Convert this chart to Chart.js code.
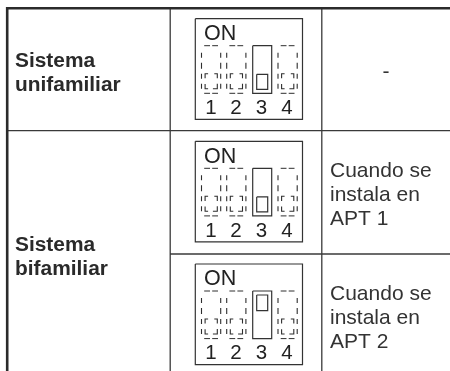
<!DOCTYPE html>
<html>
<head>
<meta charset="utf-8">
<style>html,body{margin:0;padding:0;background:#fff}canvas{display:block}</style>
<script src="https://cdn.jsdelivr.net/npm/chart.js@4"></script>
</head>
<body>
<canvas id="c" width="450" height="371"></canvas>
<script>
const systemLabels = [["Sistema","unifamiliar"],["Sistema","bifamiliar"]];
const noteLabels = [["-"],["Cuando se","instala en","APT 1"],["Cuando se","instala en","APT 2"]];
const switchNumbers = ["1","2","3","4"];
const onLabel = "ON";
const activeSwitch = [3,3,3];
const knobPosition = ["down","down","up"];

const W=450,H=371;
const boxTops=[18.7,141.3,264];
const switchX=[[201.5,220.7],[226.7,245.9],[252.7,271.7],[278,297.2]];
const digitX=[211,236,261.5,287];
const ds=[];
function line(pts,width,color){
  ds.push({type:'scatter',showLine:true,data:pts.map(p=>({x:p[0],y:p[1]})),borderColor:color,borderWidth:width,pointRadius:0,fill:false,tension:0,borderCapStyle:'butt',borderJoinStyle:'miter',clip:false});
}
function rect(x0,y0,x1,y1,width,color){line([[x0,y0],[x1,y0],[x1,y1],[x0,y1],[x0,y0]],width,color);}
const ruleC='#3a3a3a';
line([[6,8.2],[450,8.2]],2.4,'#2b2b2b');
line([[7.2,7],[7.2,371]],2.6,'#2b2b2b');
line([[170.2,8],[170.2,371]],1.3,ruleC);
line([[321.8,8],[321.8,371]],1.3,ruleC);
line([[7,130.7],[450,130.7]],1.3,ruleC);
line([[170,254],[450,254]],1.3,ruleC);
const dc='#2e2e2e';
function dashedSwitch(a,b,top,bot){
  [top,bot].forEach(y=>{
    line([[a+2.7,y],[a+8.5,y]],1,dc);
    line([[a+10.7,y],[a+16.5,y]],1,dc);
  });
  [a,b].forEach(x=>{
    [[7,12],[17,23],[28,33],[38,43]].forEach(s=>line([[x,top+s[0]],[x,top+s[1]]],1.1,dc));
  });
  const l=a+3.6,r=b-3.4,u=top+28,d=top+43;
  line([[l,u+4.6],[l,u],[l+3,u]],1.1,dc);
  line([[r-3,u],[r,u],[r,u+4.6]],1.1,dc);
  line([[l,d-4.8],[l,d],[l+3,d]],1.1,dc);
  line([[r-4.4,d],[r,d],[r,d-5]],1.1,dc);
}
boxTops.forEach((t,r)=>{
  rect(195.3,t,302.5,t+100.6,1.2,'#333');
  switchX.forEach((sx,i)=>{
    const [a,b]=sx, top=t+27, bot=t+74.6;
    if(i+1===activeSwitch[r]){
      rect(a,top,b,bot,1.2,'#333');
      const k=knobPosition[r]==='down'?[t+55.6,t+70.6]:[t+31,t+46.7];
      rect(a+4,k[0],b-4,k[1],1.2,'#333');
    }else{
      dashedSwitch(a,b,top,bot);
    }
  });
});

const textPlugin={id:'labels',afterDatasetsDraw(chart){
  const {ctx,scales:{x,y}}=chart;
  const put=(s,px,py,font,color,align)=>{
    ctx.font=font;ctx.fillStyle=color;ctx.textAlign=align||'left';ctx.textBaseline='alphabetic';
    ctx.fillText(s,x.getPixelForValue(px),y.getPixelForValue(py));
  };
  ctx.save();
  const bold='bold 20.9px "Liberation Sans"',reg='21px "Liberation Sans"';
  const sysBase=[[66.7,90.7],[250.7,275]];
  systemLabels.forEach((ls,i)=>ls.forEach((s,j)=>put(s,15,sysBase[i][j],bold,'#2a2a2a')));
  put(noteLabels[0][0],386,78,reg,'#333','center');
  const noteBase=[[176.7,201,225],[300,323.5,347.7]];
  [1,2].forEach(i=>noteLabels[i].forEach((s,j)=>put(s,330,noteBase[i-1][j],reg,'#333')));
  boxTops.forEach(t=>{
    put(onLabel,204,t+21.4,'21.5px "Liberation Sans"','#222');
    switchNumbers.forEach((n,i)=>put(n,digitX[i],t+95.3,'20.5px "Liberation Sans"','#222','center'));
  });
  ctx.restore();
}};

new Chart(document.getElementById('c'),{
  type:'scatter',
  data:{datasets:ds},
  options:{
    responsive:false,animation:false,devicePixelRatio:1,
    layout:{padding:0},
    plugins:{legend:{display:false},tooltip:{enabled:false},title:{display:false}},
    scales:{
      x:{type:'linear',min:0,max:W,display:false},
      y:{type:'linear',min:0,max:H,reverse:true,display:false}
    }
  },
  plugins:[textPlugin]
});
</script>
</body>
</html>
